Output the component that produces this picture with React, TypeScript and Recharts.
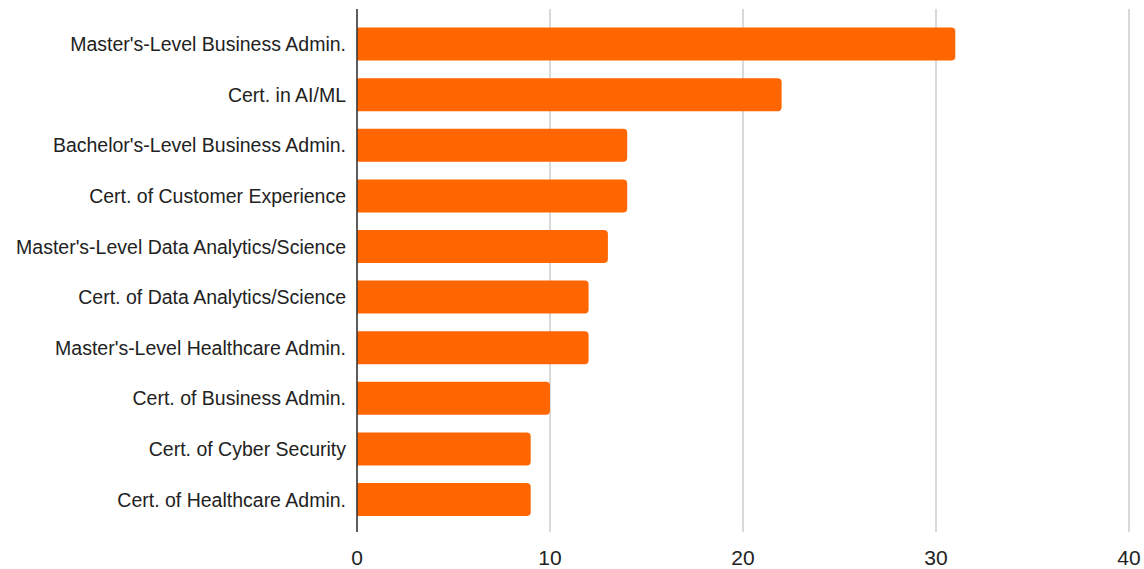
import React from "react";
import { BarChart, Bar, XAxis, YAxis, CartesianGrid } from "recharts";

const categories = [
  "Master's-Level Business Admin.",
  "Cert. in AI/ML",
  "Bachelor's-Level Business Admin.",
  "Cert. of Customer Experience",
  "Master's-Level Data Analytics/Science",
  "Cert. of Data Analytics/Science",
  "Master's-Level Healthcare Admin.",
  "Cert. of Business Admin.",
  "Cert. of Cyber Security",
  "Cert. of Healthcare Admin.",
];
const counts = [31, 22, 14, 14, 13, 12, 12, 10, 9, 9];
const xTicks = [0, 10, 20, 30, 40];

const data = categories.map((name, i) => ({ name, value: counts[i] }));

const FONT = "Arial, 'Liberation Sans', sans-serif";

export default function App() {
  return (
    <div style={{ position: "absolute", left: 0, top: 0, background: "#fff" }}>
      <BarChart
        width={1144}
        height={569}
        data={data}
        layout="vertical"
        margin={{ top: 9, right: 15, bottom: 0, left: 0 }}
        barCategoryGap="17%"
      >
        <CartesianGrid horizontal={false} stroke="#cccccc" strokeWidth={1.5} />
        <XAxis
          type="number"
          domain={[0, 40]}
          ticks={xTicks}
          axisLine={false}
          tickLine={false}
          tickSize={6}
          tickMargin={12}
          height={37}
          tick={{ fill: "#222", fontSize: 21, fontFamily: FONT }}
          interval={0}
        />
        <YAxis
          type="category"
          dataKey="name"
          width={357}
          axisLine={{ stroke: "#333", strokeWidth: 1.5 }}
          tickLine={false}
          tickSize={6}
          tickMargin={5}
          padding={{ top: 10, bottom: 7 }}
          interval={0}
          tick={{ fill: "#222", fontSize: 19.5, fontFamily: FONT }}
        />
        <Bar dataKey="value" fill="#ff6600" radius={[0, 4, 4, 0]} isAnimationActive={false} />
      </BarChart>
    </div>
  );
}
